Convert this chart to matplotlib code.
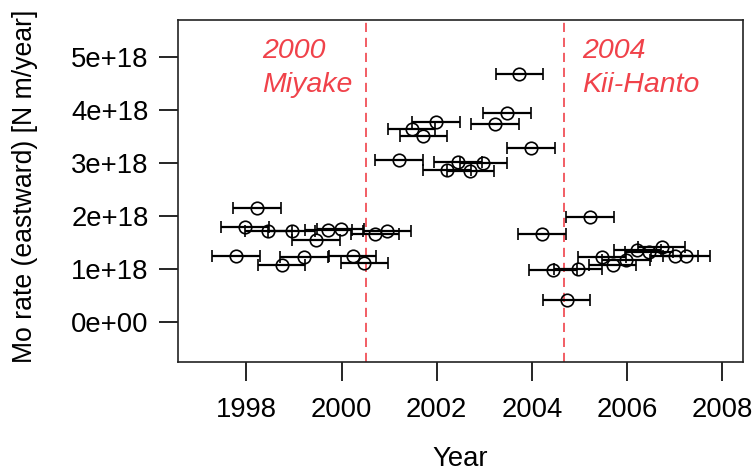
import matplotlib
matplotlib.use("Agg")
import matplotlib.pyplot as plt
import numpy as np

# ---- data ----
years = [1997.78, 1997.97, 1998.22, 1998.46, 1998.74, 1998.95, 1999.21, 1999.46,
         1999.72, 1999.98, 2000.23, 2000.48, 2000.70, 2000.95,
         2001.21, 2001.47, 2001.72, 2001.98, 2002.22, 2002.45, 2002.71, 2002.98,
         2003.22, 2003.48, 2003.74, 2003.98,
         2004.21, 2004.45, 2004.73, 2004.97, 2005.22, 2005.48, 2005.70, 2005.98,
         2006.22, 2006.46, 2006.73, 2007.00, 2007.25]
mo_rate_e18 = [1.25, 1.80, 2.16, 1.72, 1.08, 1.72, 1.23, 1.55,
               1.75, 1.77, 1.25, 1.12, 1.67, 1.72,
               3.06, 3.64, 3.51, 3.77, 2.87, 3.02, 2.85, 3.00,
               3.74, 3.95, 4.68, 3.29,
               1.67, 0.98, 0.43, 1.00, 1.98, 1.24, 1.08, 1.18,
               1.37, 1.33, 1.42, 1.26, 1.26]
year_halfwidth = [0.5] * len(years)

events_x = [2000.52, 2004.67]
event_labels = ["2000\nMiyake", "2004\nKii-Hanto"]
event_label_x = [1998.33, 2005.05]
event_label_y_e18 = 5.37

xticks = [1998, 2000, 2002, 2004, 2006, 2008]
yticks_e18 = [0, 1, 2, 3, 4, 5]
ytick_labels = ["0e+00", "1e+18", "2e+18", "3e+18", "4e+18", "5e+18"]

x_label = "Year"
y_label = "Mo rate (eastward) [N m/year]"

# ---- figure ----
plt.rcParams['font.family'] = ['Liberation Sans', 'DejaVu Sans']
FS = 19.8
RED = '#F0424A'

fig = plt.figure(figsize=(7.54, 4.74), dpi=100)
ax = fig.add_axes([178/754, 1 - 362/474, (743 - 178)/754, (362 - 20)/474])

y = np.array(mo_rate_e18) * 1e18
ax.errorbar(years, y, xerr=year_halfwidth, fmt='o', mfc='none', mec='black',
            ms=9, mew=1.2, ecolor='black', elinewidth=1.6, capsize=4.3,
            capthick=1.6, zorder=3)

for xv in events_x:
    ax.axvline(xv, color=RED, lw=1.2, dashes=(5.5, 3.5), zorder=2)

for lx, lt in zip(event_label_x, event_labels):
    ax.text(lx, event_label_y_e18 * 1e18, lt, color=RED, fontsize=20.5,
            style='italic', ha='left', va='top', linespacing=1.4)

ax.set_xlim(1996.56, 2008.44)
ax.set_ylim(-0.745e18, 5.70e18)
ax.set_xticks(xticks)
ax.set_xticklabels([str(t) for t in xticks])
ax.set_yticks(np.array(yticks_e18) * 1e18)
ax.set_yticklabels(ytick_labels)
ax.tick_params(axis='both', direction='out', length=14, width=1.2,
               labelsize=FS, colors='black')
ax.tick_params(axis='x', pad=11)
ax.tick_params(axis='y', pad=7)
for s in ax.spines.values():
    s.set_linewidth(1.2)
    s.set_color('#222222')

ax.set_xlabel(x_label, fontsize=FS)
ax.set_ylabel(y_label, fontsize=19.2)
ax.xaxis.set_label_coords(0.5, -0.245)
ax.yaxis.set_label_coords(-0.248, 0.515)

fig.savefig("out.png", dpi=100)
